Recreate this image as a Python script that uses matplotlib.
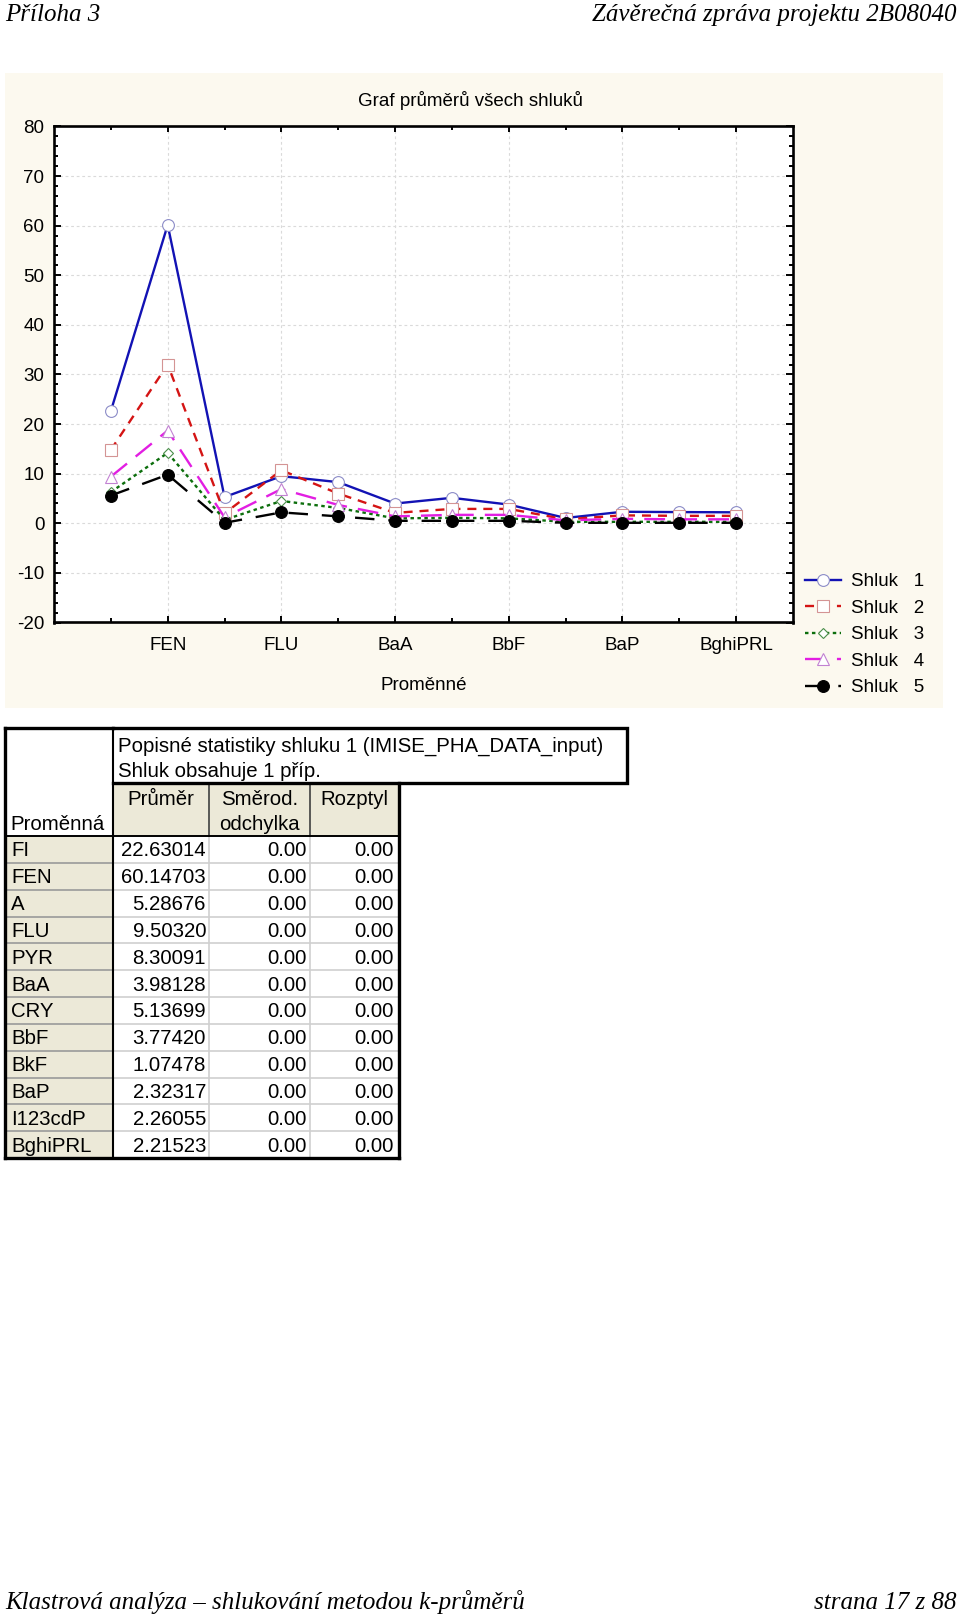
import matplotlib
matplotlib.use('Agg')
import matplotlib.pyplot as plt
from matplotlib.patches import Rectangle
from matplotlib.ticker import MultipleLocator, FixedLocator

plt.rcParams['font.family'] = ['Liberation Sans', 'DejaVu Sans']
plt.rcParams['lines.scale_dashes'] = False
plt.rcParams['axes.unicode_minus'] = False

# ---------------- data ----------------
variables = ['FI', 'FEN', 'A', 'FLU', 'PYR', 'BaA', 'CRY', 'BbF', 'BkF', 'BaP', 'I123cdP', 'BghiPRL']
shluk1 = [22.63014, 60.14703, 5.28676, 9.50320, 8.30091, 3.98128, 5.13699, 3.77420, 1.07478, 2.32317, 2.26055, 2.21523]
shluk2 = [14.8, 32.0, 2.0, 10.7, 6.0, 2.1, 2.9, 2.9, 0.8, 1.6, 1.5, 1.5]
shluk3 = [6.3, 14.2, 0.7, 4.5, 3.1, 1.0, 1.1, 1.0, 0.3, 0.3, 0.3, 0.3]
shluk4 = [9.4, 18.7, 1.2, 6.9, 3.7, 1.4, 1.7, 1.7, 0.6, 0.9, 0.8, 0.8]
shluk5 = [5.6, 9.8, 0.1, 2.2, 1.4, 0.5, 0.5, 0.5, 0.1, 0.1, 0.1, 0.1]
series_labels = ['Shluk   1', 'Shluk   2', 'Shluk   3', 'Shluk   4', 'Shluk   5']

table_means = ['22.63014', '60.14703', '5.28676', '9.50320', '8.30091', '3.98128',
               '5.13699', '3.77420', '1.07478', '2.32317', '2.26055', '2.21523']
table_sd = ['0.00'] * 12
table_var = ['0.00'] * 12

W, H = 960, 1617
DPI = 100
fig = plt.figure(figsize=(W / DPI, H / DPI), dpi=DPI)
fig.patch.set_facecolor('white')


def frac(x0, y0, x1, y1):
    return [x0 / W, 1 - y1 / H, (x1 - x0) / W, (y1 - y0) / H]


# overlay in pixel coordinates
ov = fig.add_axes([0, 0, 1, 1], zorder=0)
ov.set_xlim(0, W)
ov.set_ylim(H, 0)
ov.axis('off')

serif = ['Liberation Serif', 'DejaVu Serif']
ov.text(5, 21, 'Příloha 3', family=serif, style='italic', fontsize=18, ha='left', va='baseline')
ov.text(957, 21, 'Závěrečná zpráva projektu 2B08040', family=serif, style='italic', fontsize=18,
        ha='right', va='baseline')
ov.text(5, 1609, 'Klastrová analýza – shlukování metodou k-průměrů', family=serif, style='italic',
        fontsize=18, ha='left', va='baseline')
ov.text(957, 1609, 'strana 17 z 88', family=serif, style='italic', fontsize=18, ha='right', va='baseline')

# chart panel
ov.add_patch(Rectangle((5, 72.7), 938, 635.3, facecolor='#FCF9EF', edgecolor='none'))
ov.text(470, 100.5, 'Graf průměrů všech shluků', fontsize=13.5, ha='center', va='center')
ov.text(423.5, 685, 'Proměnné', fontsize=13.5, ha='center', va='center')

ax = fig.add_axes(frac(54, 126.5, 793, 622.5), zorder=2)
ax.set_facecolor('white')

styles = [
    dict(color='#1212B4', ls='-', marker='o', ms=8.5, mfc='white', mec='#8C8CC8'),
    dict(color='#D41414', ls=(0, (6.5, 5)), marker='s', ms=8, mfc='white', mec='#D49494'),
    dict(color='#0C6E0C', ls=(0, (2.5, 2.5)), marker='D', ms=5, mfc='white', mec='#4A8E4A'),
    dict(color='#E21EE2', ls=(0, (15, 8)), marker='^', ms=8.5, mfc='white', mec='#C282D2'),
    dict(color='black', ls=(0, (14, 10)), marker='o', ms=8.5, mfc='black', mec='black'),
]
xs = list(range(len(variables)))
for vals, st, lab in zip([shluk1, shluk2, shluk3, shluk4, shluk5], styles, series_labels):
    ax.plot(xs, vals, lw=1.7, mew=0.8, label=lab, **st)

ax.set_xlim(-1, 12)
ax.set_ylim(-20, 80)
ax.xaxis.set_major_locator(FixedLocator(xs[1::2]))
ax.set_xticklabels(variables[1::2])
ax.xaxis.set_minor_locator(FixedLocator(xs[0::2]))
ax.yaxis.set_major_locator(MultipleLocator(10))
ax.yaxis.set_minor_locator(MultipleLocator(2))
ax.tick_params(axis='both', which='both', direction='in', top=True, right=True,
               labelsize=13.5, width=1.4)
ax.tick_params(axis='x', which='major', length=4.5, pad=10.5)
ax.tick_params(axis='x', which='minor', length=3)
ax.tick_params(axis='y', which='major', length=5, pad=7)
ax.tick_params(axis='y', which='minor', length=3)
for s in ax.spines.values():
    s.set_linewidth(1.9)
ax.set_axisbelow(True)
ax.grid(True, which='major', color='#DADADA', linestyle=(0, (2, 2)), lw=0.8)

h, l = ax.get_legend_handles_labels()
fig.legend(h, l, loc='upper left', bbox_to_anchor=(805 / W, 1 - 573 / H), frameon=False,
           fontsize=13.5, borderpad=0, borderaxespad=0, handlelength=1.9, handletextpad=0.55,
           labelspacing=0.5)

# ---------------- table ----------------
beige = '#ECE9D8'
cx = [5, 113, 209, 310, 399]
top_y = 728
hdr_y = 783
data_y = 836
row_h = (1158 - data_y) / 12
thick = 2.4

# backgrounds
ov.add_patch(Rectangle((cx[0], top_y), cx[1] - cx[0], data_y - top_y, facecolor='white', edgecolor='none'))
ov.add_patch(Rectangle((cx[1], top_y), 627 - cx[1], hdr_y - top_y, facecolor='white', edgecolor='none'))
ov.add_patch(Rectangle((cx[1], hdr_y), cx[4] - cx[1], data_y - hdr_y, facecolor=beige, edgecolor='none'))
ov.add_patch(Rectangle((cx[0], data_y), cx[1] - cx[0], 12 * row_h, facecolor=beige, edgecolor='none'))
ov.add_patch(Rectangle((cx[1], data_y), cx[4] - cx[1], 12 * row_h, facecolor='white', edgecolor='none'))

# row separators
for i in range(1, 12):
    y = data_y + i * row_h
    ov.plot([cx[0], cx[1]], [y, y], color='#9A9A9A', lw=1.2)
    ov.plot([cx[1], cx[4]], [y, y], color='#CFCFCF', lw=1.2)
# column separators in data area
for x in cx[2:4]:
    ov.plot([x, x], [data_y, data_y + 12 * row_h], color='#CFCFCF', lw=1.2)
# header separators
for x in cx[2:4]:
    ov.plot([x, x], [hdr_y, data_y], color='#404040', lw=1.2)
ov.plot([cx[1], cx[4]], [data_y, data_y], color='black', lw=1.4)
ov.plot([cx[0], cx[1]], [data_y, data_y], color='black', lw=1.4)
ov.plot([cx[1], cx[1]], [top_y, data_y + 12 * row_h], color='black', lw=1.5)

# thick outer borders
ov.plot([cx[1], 627, 627, cx[1]], [top_y, top_y, hdr_y, hdr_y], color='black', lw=thick,
        solid_joinstyle='miter')
ov.plot([cx[0], cx[1]], [top_y, top_y], color='black', lw=thick)
ov.plot([cx[0], cx[0]], [top_y, 1158], color='black', lw=thick)
ov.plot([cx[0], cx[4]], [1158, 1158], color='black', lw=thick)
ov.plot([cx[4], cx[4]], [hdr_y, 1158], color='black', lw=thick)

fs = 14.7
ov.text(118, 746, 'Popisné statistiky shluku 1 (IMISE_PHA_DATA_input)', fontsize=fs, ha='left', va='center')
ov.text(118, 771, 'Shluk obsahuje 1 příp.', fontsize=fs, ha='left', va='center')
ov.text(10, 824, 'Proměnná', fontsize=fs, ha='left', va='center')
ov.text((cx[1] + cx[2]) / 2, 799, 'Průměr', fontsize=fs, ha='center', va='center')
ov.text((cx[2] + cx[3]) / 2, 799, 'Směrod.', fontsize=fs, ha='center', va='center')
ov.text((cx[2] + cx[3]) / 2, 824, 'odchylka', fontsize=fs, ha='center', va='center')
ov.text((cx[3] + cx[4]) / 2, 799, 'Rozptyl', fontsize=fs, ha='center', va='center')

for i in range(12):
    yc = data_y + (i + 0.5) * row_h + 1.5
    ov.text(11, yc, variables[i], fontsize=fs, ha='left', va='center')
    ov.text(cx[2] - 3, yc, table_means[i], fontsize=fs, ha='right', va='center')
    ov.text(cx[3] - 3, yc, table_sd[i], fontsize=fs, ha='right', va='center')
    ov.text(cx[4] - 5, yc, table_var[i], fontsize=fs, ha='right', va='center')

fig.savefig('out.png', dpi=DPI, facecolor='white')
